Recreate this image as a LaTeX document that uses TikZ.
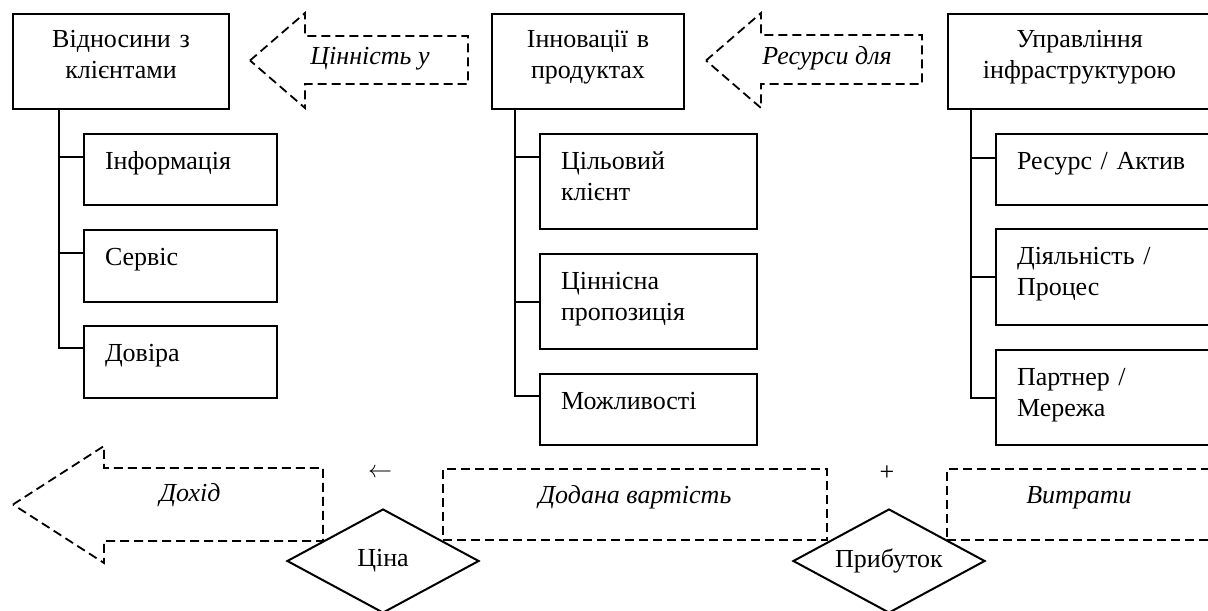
\documentclass[tikz,border=0pt]{standalone}
\usepackage{fontspec}
\setmainfont{Liberation Serif}
\usetikzlibrary{shapes.geometric}
\newcommand{\diagfont}{\fontsize{13}{15.5}\selectfont}
\tikzstyle{block} = [rectangle, draw=black, line width=1pt, anchor=north west, align=center, inner sep=0pt, text height=17pt]
\tikzstyle{item} = [rectangle, draw=black, line width=1pt, anchor=north west, align=left, inner xsep=10.5pt, inner ysep=0pt, text height=17.5pt]
\tikzstyle{flow} = [draw=black, line width=0.9pt, dash pattern=on 4.5pt off 2.5pt]
\tikzstyle{flowtext} = [font=\diagfont\itshape, anchor=base]
\tikzstyle{flowbox} = [rectangle, flow, minimum height=35.5pt, text height=9pt, text depth=10.5pt, font=\diagfont\itshape]
\tikzstyle{gate} = [diamond, draw=black, fill=white, line width=1pt, aspect=1.85, inner sep=0pt, minimum width=96pt, minimum height=52pt]
\tikzstyle{tree} = [line width=1pt]

\begin{document}
\begin{tikzpicture}[x=0.5pt, y=-0.5pt, every node/.style={font=\diagfont}]
\useasboundingbox (0,0) rectangle (1208,610);
\clip (0,0) rectangle (1208,610);

% top row
\node (rel) [block, text width=108pt, text depth=30.5pt] at (12,13) {Відносини з\\клієнтами};
\node (innov) [block, text width=96pt, text depth=30.5pt] at (491,13) {Інновації в\\продуктах};
\node (infra) [block, text width=131.5pt, text depth=30.5pt] at (947,13) {Управління\\інфраструктурою};

\draw[flow] (250,60.5) -- (305,13) -- (305,36) -- (468,36) -- (468,84) -- (305,84) -- (305,108) -- cycle;
\node (value) [flowtext] at (370,65) {Цінність у};
\draw[flow] (706,60.5) -- (761,13) -- (761,35) -- (922,35) -- (922,84) -- (761,84) -- (761,108) -- cycle;
\node (means) [flowtext] at (827,65) {Ресурси для};

% items
\node (info) [item, text width=75.5pt, text depth=18pt] at (83,133) {Інформація};
\node (serv) [item, text width=75.5pt, text depth=18.5pt] at (83,229) {Сервіс};
\node (trust) [item, text width=75.5pt, text depth=18.5pt] at (83,325) {Довіра};

\node (client) [item, text width=87.5pt, text depth=30pt] at (539,133) {Цільовий\\клієнт};
\node (offer) [item, text width=87.5pt, text depth=30pt] at (539,253) {Ціннісна\\пропозиція};
\node (ability) [item, text width=87.5pt, text depth=18pt] at (539,373) {Можливості};

\node (asset) [item, text width=90pt, text depth=18pt] at (995,133) {Ресурс / Актив};
\node (process) [item, text width=90pt, text depth=30.5pt] at (995,228) {Діяльність /\\Процес};
\node (partner) [item, text width=90pt, text depth=30pt] at (995,349) {Партнер /\\Мережа};

% tree lines
\coordinate (relspine) at ([xshift=-12pt]info.north west);
\coordinate (innovspine) at ([xshift=-12pt]client.north west);
\coordinate (infraspine) at ([xshift=-12pt]asset.north west);

\draw[tree] (relspine |- rel.south) |- ([yshift=-11.5pt]trust.north west);
\draw[tree] (relspine |- info.north) ++(0,24) -- ([yshift=-12pt]info.north west);
\draw[tree] (relspine |- serv.north) ++(0,24) -- ([yshift=-12pt]serv.north west);

\draw[tree] (innovspine |- innov.south) |- ([yshift=-11.5pt]ability.north west);
\draw[tree] (innovspine |- client.north) ++(0,24) -- ([yshift=-12pt]client.north west);
\draw[tree] (innovspine |- offer.west) -- (offer.west);

\draw[tree] (infraspine |- infra.south) |- (partner.west);
\draw[tree] (infraspine |- asset.north) ++(0,25) -- ([yshift=-12.5pt]asset.north west);
\draw[tree] (infraspine |- process.west) -- (process.west);

% bottom row
\draw[flow] (13,504.5) -- (104,446) -- (104,468) -- (323,468) -- (323,541) -- (104,541) -- (104,563) -- cycle;
\node (income) [flowtext] at (190,501) {Дохід};
\node (added) [flowbox, minimum width=192pt] at (635,504.5) {Додана вартість};
\node (costs) [flowbox, minimum width=132pt] at (1079,504.5) {Витрати};

\node (minus) at (380,473) {$\leftarrow$};
\node (plus) at (887,473) {+};

\node (price) [gate] at (383,561) {Ціна};
\node (profit) [gate] at (889,561) {Прибуток};
\end{tikzpicture}
\end{document}
